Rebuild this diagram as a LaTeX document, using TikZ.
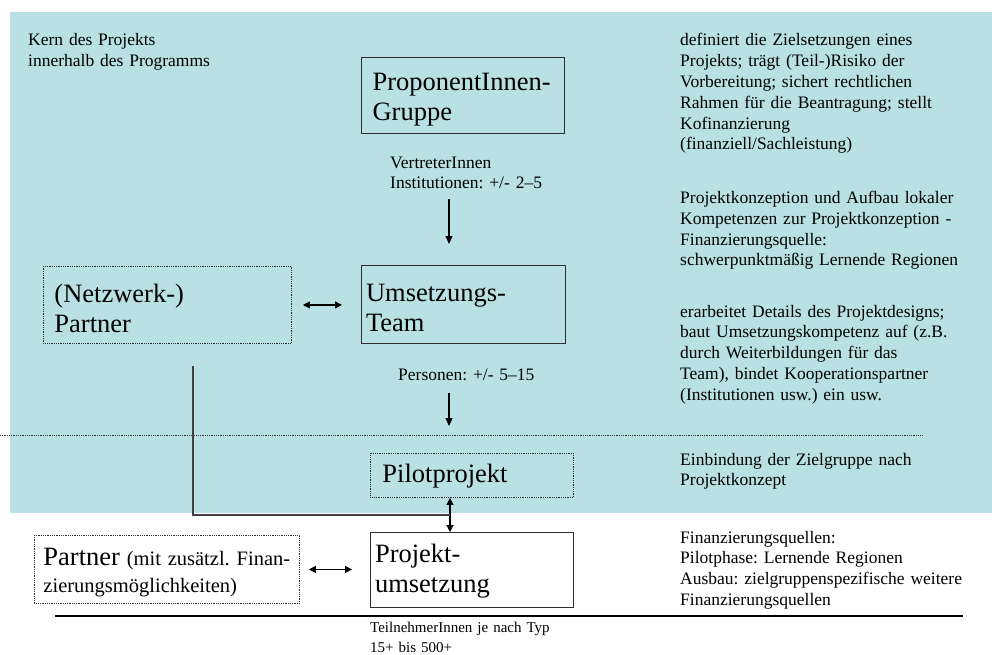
\documentclass[tikz,border=0pt]{standalone}
\usepackage{fontspec}
\setmainfont{Liberation Serif}
\usetikzlibrary{arrows.meta,calc}
\frenchspacing

\definecolor{panel}{RGB}{185,224,227}
\definecolor{edge}{RGB}{45,45,45}

\tikzset{
  body/.style={font=\fontsize{17.5}{20.8}\selectfont, inner sep=0pt,
    anchor=base west, text width=310pt, align=left},
  note/.style={font=\fontsize{15}{20}\selectfont, inner sep=0pt,
    anchor=base west, text width=250pt, align=left},
  % box with a fixed width; first-line height and last-line depth set the height
  box/.style n args={4}{anchor=north west, inner ysep=0pt, inner xsep=#2,
    minimum width=#1, text width=#1-2*#2, align=left,
    execute at begin node={\rule{0pt}{#3}},
    execute at end node={\rule[-#4]{0pt}{#4}}},
  big/.style={font=\fontsize{26.5}{30}\selectfont},
  solidbox/.style={draw=edge, line width=1.1pt, big},
  dotbox/.style={draw=edge, line width=0.9pt, dash pattern=on 0.9pt off 0.9pt, big},
  arr/.style={draw=black, line width=1.1pt, -{Triangle[length=8pt,width=7pt]}},
  dbl/.style={draw=black, line width=1.1pt,
    {Triangle[length=7pt,width=7pt]}-{Triangle[length=7pt,width=7pt]}},
  link/.style={draw=black!75, line width=1.3pt},
  sep/.style={draw=black!80, line width=0.9pt, dash pattern=on 0.9pt off 0.9pt},
}

\begin{document}
\begin{tikzpicture}[x=1pt,y=-1pt]
\useasboundingbox (0,0) rectangle (992,655);

% shaded core area
\fill[panel] (10,12) rectangle (992,513);

% helper columns for the vertical connectors
\coordinate (ax) at (449,0);
\coordinate (bx) at (450,0);
\coordinate (lx) at (193,0);

% left caption
\node[body] (kern) at (28,46) {Kern des Projekts\\innerhalb des Programms};

% boxes
\node[solidbox, box={203pt}{11pt}{33pt}{13pt}] (prop) at (361,57)
  {ProponentInnen-\\Gruppe};
\node[solidbox, box={204pt}{4.5pt}{36pt}{12pt}] (umset) at (361,265)
  {Umsetzungs-\\Team};
\node[dotbox, box={248pt}{11pt}{36pt}{11pt}] (netz) at (43,266)
  {(Netzwerk-)\\Partner};
\node[dotbox, box={203pt}{12pt}{29pt}{15pt}] (pilot) at (370,453)
  {Pilotprojekt};
\node[solidbox, box={203pt}{4.5pt}{30pt}{15pt}] (proj) at (370,532)
  {Projekt-\\umsetzung};
\node[dotbox, box={265pt}{9pt}{30pt}{11pt},
      font=\fontsize{20.5}{27}\selectfont] (partner) at (34,535)
  {{\fontsize{26.5}{27}\selectfont Partner}~(mit zusätzl.~Finan-\\zierungsmöglichkeiten)};

% labels along the central column
\node[body] (vertr) at (390,168) {VertreterInnen\\Institutionen: +/- 2–5};
\node[body] (pers) at (398,380) {Personen: +/- 5–15};
\node[note] (tn) at (370,632) {TeilnehmerInnen je nach Typ\\15+ bis 500+};

% right-hand descriptions
\node[body] (d1) at (680,46) {definiert die Zielsetzungen eines\\Projekts; trägt (Teil-)Risiko der\\Vorbereitung; sichert rechtlichen\\Rahmen für die Beantragung; stellt\\Kofinanzierung\\(finanziell/Sachleistung)};
\node[body] (d2) at (680,203.5) {Projektkonzeption und Aufbau lokaler\\Kompetenzen zur Projektkonzeption -\\Finanzierungsquelle:\\schwerpunktmäßig Lernende Regionen};
\node[body] (d3) at (680,317) {erarbeitet Details des Projektdesigns;\\baut Umsetzungskompetenz auf (z.B.\\durch Weiterbildungen für das\\Team), bindet Kooperationspartner\\(Institutionen usw.) ein usw.};
\node[body] (d4) at (680,465) {Einbindung der Zielgruppe nach\\Projektkonzept};
\node[body] (d5) at (680,543) {Finanzierungsquellen:\\Pilotphase: Lernende Regionen\\Ausbau: zielgruppenspezifische weitere\\Finanzierungsquellen};

% separators
\coordinate (sepL) at (0,435);
\coordinate (sepR) at (923,435);
\draw[sep] (sepL) -- (sepR);
\coordinate (ruleL) at (55,616);
\coordinate (ruleR) at (963,616);
\draw[black, line width=1.1pt] (ruleL) -- (ruleR);

% connectors
\draw[arr, shorten <=65pt, shorten >=21pt] (prop.south -| ax) -- (umset.north -| ax);
\draw[arr, shorten <=49pt, shorten >=27pt] (umset.south -| ax) -- (pilot.north -| ax);
\draw[dbl, shorten <=11pt, shorten >=19pt] (netz.east) -- (umset.west |- netz.east);
\draw[dbl, shorten <=9pt, shorten >=18pt] (partner.east) -- (proj.west |- partner.east);
\draw[dbl] (pilot.south -| bx) -- (proj.north -| bx);
\draw[link] ($(netz.south -| lx)+(0,22)$) |- ($(pilot.south -| bx)+(0,17)$);
\end{tikzpicture}
\end{document}
